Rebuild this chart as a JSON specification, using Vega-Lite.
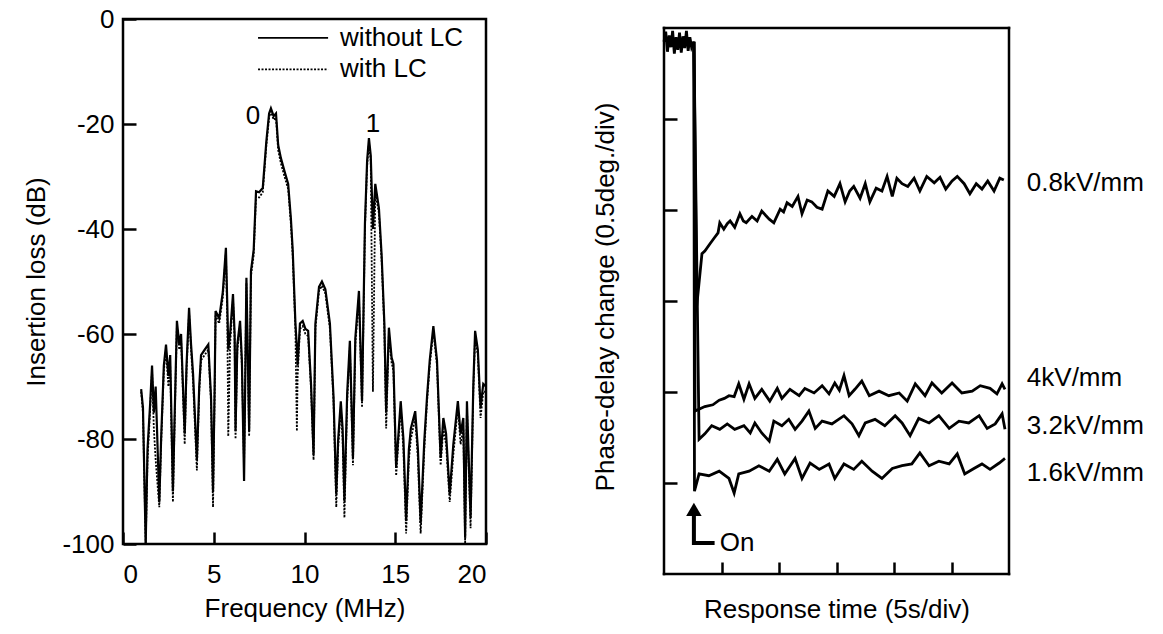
{
  "$schema": "https://vega.github.io/schema/vega-lite/v6.json",
  "padding": {"left": 22, "top": 4, "right": 5, "bottom": 5},
  "spacing": 100,
  "config": {
    "font": "Liberation Sans",
    "view": {"stroke": null},
    "axis": {"grid": false, "domain": false, "tickColor": "black", "tickWidth": 2.5, "labelColor": "black", "titleColor": "black", "labelFont": "Liberation Sans", "titleFont": "Liberation Sans", "labelFontSize": 26, "titleFontSize": 26, "titleFontWeight": "normal"},
    "text": {"font": "Liberation Sans", "fontSize": 26, "color": "black"}
  },
  "datasets": {
    "without": [
      {"f":1.0,"loss":-70.5},{"f":1.1,"loss":-74},{"f":1.25,"loss":-100},{"f":1.35,"loss":-82},{"f":1.5,"loss":-73},{"f":1.6,"loss":-66},{"f":1.7,"loss":-75},{"f":1.8,"loss":-70},{"f":2.0,"loss":-92},{"f":2.1,"loss":-80},{"f":2.25,"loss":-66},{"f":2.37,"loss":-62},{"f":2.5,"loss":-68},{"f":2.6,"loss":-64},{"f":2.75,"loss":-90},{"f":2.85,"loss":-75},{"f":2.97,"loss":-57.5},{"f":3.1,"loss":-62},{"f":3.2,"loss":-60},{"f":3.4,"loss":-79},{"f":3.5,"loss":-66},{"f":3.64,"loss":-55},{"f":3.75,"loss":-62},{"f":3.86,"loss":-67.6},{"f":4.07,"loss":-84},{"f":4.2,"loss":-70},{"f":4.3,"loss":-64},{"f":4.5,"loss":-63},{"f":4.7,"loss":-62},{"f":4.85,"loss":-72},{"f":4.96,"loss":-90},{"f":5.05,"loss":-70},{"f":5.1,"loss":-55.6},{"f":5.3,"loss":-57},{"f":5.5,"loss":-52},{"f":5.67,"loss":-43.6},{"f":5.75,"loss":-55},{"f":5.8,"loss":-63},{"f":5.9,"loss":-60},{"f":6.06,"loss":-52.4},{"f":6.15,"loss":-60},{"f":6.2,"loss":-78.5},{"f":6.3,"loss":-62},{"f":6.45,"loss":-57.5},{"f":6.55,"loss":-65},{"f":6.67,"loss":-88},{"f":6.8,"loss":-49.3},{"f":6.95,"loss":-78.5},{"f":7.05,"loss":-48},{"f":7.2,"loss":-44},{"f":7.33,"loss":-32.8},{"f":7.5,"loss":-33},{"f":7.7,"loss":-32.2},{"f":7.9,"loss":-23.2},{"f":8.05,"loss":-18},{"f":8.15,"loss":-17},{"f":8.3,"loss":-18.5},{"f":8.43,"loss":-18},{"f":8.55,"loss":-24},{"f":8.7,"loss":-26.5},{"f":8.9,"loss":-29},{"f":9.1,"loss":-31.4},{"f":9.25,"loss":-38},{"f":9.35,"loss":-44},{"f":9.5,"loss":-58},{"f":9.58,"loss":-62.6},{"f":9.62,"loss":-66},{"f":9.75,"loss":-58},{"f":9.9,"loss":-57.5},{"f":10.05,"loss":-59},{"f":10.2,"loss":-59.4},{"f":10.36,"loss":-69.5},{"f":10.5,"loss":-83},{"f":10.6,"loss":-58},{"f":10.8,"loss":-51},{"f":10.96,"loss":-50},{"f":11.15,"loss":-51.5},{"f":11.4,"loss":-58},{"f":11.6,"loss":-72},{"f":11.75,"loss":-90.5},{"f":11.85,"loss":-80.4},{"f":12.0,"loss":-72.8},{"f":12.1,"loss":-78},{"f":12.2,"loss":-91.8},{"f":12.35,"loss":-71.4},{"f":12.5,"loss":-61.3},{"f":12.67,"loss":-83.6},{"f":12.8,"loss":-60.8},{"f":13.0,"loss":-51.8},{"f":13.17,"loss":-72.8},{"f":13.33,"loss":-39},{"f":13.45,"loss":-27},{"f":13.55,"loss":-22.7},{"f":13.65,"loss":-26},{"f":13.77,"loss":-40},{"f":13.9,"loss":-31.4},{"f":14.1,"loss":-36},{"f":14.25,"loss":-45},{"f":14.4,"loss":-58},{"f":14.5,"loss":-75},{"f":14.65,"loss":-58.8},{"f":14.8,"loss":-64.5},{"f":14.9,"loss":-65.7},{"f":15.05,"loss":-85.5},{"f":15.3,"loss":-72.8},{"f":15.45,"loss":-80},{"f":15.6,"loss":-95.6},{"f":15.75,"loss":-82},{"f":15.86,"loss":-78},{"f":16.1,"loss":-74.7},{"f":16.25,"loss":-82},{"f":16.4,"loss":-96},{"f":16.6,"loss":-80.4},{"f":16.75,"loss":-72},{"f":16.9,"loss":-65},{"f":17.1,"loss":-58.5},{"f":17.3,"loss":-65},{"f":17.5,"loss":-83.6},{"f":17.65,"loss":-76},{"f":17.8,"loss":-79},{"f":18.0,"loss":-90.5},{"f":18.2,"loss":-81},{"f":18.45,"loss":-72.8},{"f":18.6,"loss":-79},{"f":18.75,"loss":-76},{"f":18.85,"loss":-98.8},{"f":18.95,"loss":-72.8},{"f":19.15,"loss":-95},{"f":19.3,"loss":-70},{"f":19.4,"loss":-59.4},{"f":19.55,"loss":-63},{"f":19.7,"loss":-74},{"f":19.85,"loss":-69.5},{"f":20.0,"loss":-70}
    ],
    "with": [
      {"f":1.0,"loss":-71},{"f":1.1,"loss":-75},{"f":1.25,"loss":-100},{"f":1.35,"loss":-84},{"f":1.5,"loss":-74},{"f":1.6,"loss":-67},{"f":1.7,"loss":-78},{"f":1.8,"loss":-84},{"f":2.0,"loss":-93},{"f":2.1,"loss":-81},{"f":2.25,"loss":-67},{"f":2.37,"loss":-63},{"f":2.5,"loss":-70},{"f":2.6,"loss":-66},{"f":2.75,"loss":-92},{"f":2.85,"loss":-76},{"f":2.97,"loss":-58.5},{"f":3.1,"loss":-63},{"f":3.2,"loss":-61},{"f":3.4,"loss":-81},{"f":3.5,"loss":-67},{"f":3.64,"loss":-56},{"f":3.75,"loss":-63},{"f":3.86,"loss":-69},{"f":4.07,"loss":-86},{"f":4.2,"loss":-71},{"f":4.3,"loss":-65},{"f":4.5,"loss":-64},{"f":4.7,"loss":-63},{"f":4.85,"loss":-73},{"f":4.96,"loss":-93},{"f":5.05,"loss":-71},{"f":5.1,"loss":-56.5},{"f":5.3,"loss":-58},{"f":5.5,"loss":-53},{"f":5.67,"loss":-44.5},{"f":5.75,"loss":-58},{"f":5.8,"loss":-79.5},{"f":5.9,"loss":-62},{"f":6.06,"loss":-53.4},{"f":6.15,"loss":-61},{"f":6.2,"loss":-80},{"f":6.3,"loss":-63},{"f":6.45,"loss":-58.5},{"f":6.55,"loss":-66},{"f":6.67,"loss":-85},{"f":6.8,"loss":-50.3},{"f":6.95,"loss":-79.5},{"f":7.05,"loss":-49},{"f":7.2,"loss":-45},{"f":7.33,"loss":-33.8},{"f":7.5,"loss":-34},{"f":7.7,"loss":-33},{"f":7.9,"loss":-24},{"f":8.05,"loss":-18.8},{"f":8.15,"loss":-17.6},{"f":8.3,"loss":-19.2},{"f":8.43,"loss":-18.8},{"f":8.55,"loss":-25},{"f":8.7,"loss":-27.5},{"f":8.9,"loss":-30},{"f":9.1,"loss":-32.4},{"f":9.25,"loss":-39},{"f":9.35,"loss":-45},{"f":9.5,"loss":-59},{"f":9.58,"loss":-78.5},{"f":9.62,"loss":-68},{"f":9.75,"loss":-59},{"f":9.9,"loss":-58.5},{"f":10.05,"loss":-60},{"f":10.2,"loss":-60.4},{"f":10.36,"loss":-70.5},{"f":10.5,"loss":-84},{"f":10.6,"loss":-59},{"f":10.8,"loss":-51.8},{"f":10.96,"loss":-50.8},{"f":11.15,"loss":-52.3},{"f":11.4,"loss":-59},{"f":11.6,"loss":-73},{"f":11.75,"loss":-93},{"f":11.85,"loss":-82},{"f":12.0,"loss":-74},{"f":12.1,"loss":-80},{"f":12.2,"loss":-95},{"f":12.35,"loss":-73},{"f":12.5,"loss":-62.5},{"f":12.67,"loss":-85},{"f":12.8,"loss":-62},{"f":13.0,"loss":-53},{"f":13.17,"loss":-74},{"f":13.33,"loss":-40},{"f":13.45,"loss":-28},{"f":13.55,"loss":-23.6},{"f":13.65,"loss":-27},{"f":13.77,"loss":-71},{"f":13.9,"loss":-33},{"f":14.1,"loss":-37},{"f":14.25,"loss":-46},{"f":14.4,"loss":-59},{"f":14.5,"loss":-78},{"f":14.65,"loss":-60},{"f":14.8,"loss":-65.5},{"f":14.9,"loss":-67},{"f":15.05,"loss":-87},{"f":15.3,"loss":-74},{"f":15.45,"loss":-82},{"f":15.6,"loss":-98},{"f":15.75,"loss":-84},{"f":15.86,"loss":-80},{"f":16.1,"loss":-76},{"f":16.25,"loss":-84},{"f":16.4,"loss":-98},{"f":16.6,"loss":-82},{"f":16.75,"loss":-73},{"f":16.9,"loss":-66},{"f":17.1,"loss":-59.5},{"f":17.3,"loss":-66},{"f":17.5,"loss":-85},{"f":17.65,"loss":-78},{"f":17.8,"loss":-81},{"f":18.0,"loss":-92},{"f":18.2,"loss":-83},{"f":18.45,"loss":-74},{"f":18.6,"loss":-81},{"f":18.75,"loss":-78},{"f":18.85,"loss":-100},{"f":18.95,"loss":-74},{"f":19.15,"loss":-97},{"f":19.3,"loss":-71},{"f":19.4,"loss":-60.5},{"f":19.55,"loss":-64},{"f":19.7,"loss":-76},{"f":19.85,"loss":-71},{"f":20.0,"loss":-71}
    ],
    "legendLines": [
      {"f":7.44,"loss":-3.6,"s":"without LC"},{"f":11.3,"loss":-3.6,"s":"without LC"},
      {"f":7.44,"loss":-9.6,"s":"with LC"},{"f":11.3,"loss":-9.6,"s":"with LC"}
    ],
    "leftText": [
      {"f":11.96,"loss":-3.6,"label":"without LC"},
      {"f":11.96,"loss":-9.6,"label":"with LC"}
    ],
    "peaks": [
      {"f":7.16,"loss":-18.5,"label":"0"},
      {"f":13.77,"loss":-20,"label":"1"}
    ],
    "resp": [
      {"t":0.0,"phase":5.85,"field":"pre"},{"t":0.03,"phase":5.96,"field":"pre"},{"t":0.06,"phase":5.74,"field":"pre"},{"t":0.09,"phase":5.92,"field":"pre"},{"t":0.12,"phase":5.79,"field":"pre"},{"t":0.15,"phase":5.97,"field":"pre"},{"t":0.18,"phase":5.72,"field":"pre"},{"t":0.21,"phase":5.9,"field":"pre"},{"t":0.24,"phase":5.76,"field":"pre"},{"t":0.27,"phase":5.95,"field":"pre"},{"t":0.3,"phase":5.73,"field":"pre"},{"t":0.33,"phase":5.91,"field":"pre"},{"t":0.36,"phase":5.78,"field":"pre"},{"t":0.39,"phase":5.97,"field":"pre"},{"t":0.42,"phase":5.75,"field":"pre"},{"t":0.45,"phase":5.9,"field":"pre"},{"t":0.48,"phase":5.79,"field":"pre"},{"t":0.52,"phase":5.85,"field":"pre"},

      {"t":0.52,"phase":5.85,"field":"0.8"},{"t":0.57,"phase":2.95,"field":"0.8"},{"t":0.66,"phase":3.52,"field":"0.8"},{"t":0.71,"phase":3.55,"field":"0.8"},{"t":0.8,"phase":3.63,"field":"0.8"},{"t":0.87,"phase":3.69,"field":"0.8"},{"t":0.94,"phase":3.75,"field":"0.8"},{"t":0.97,"phase":3.86,"field":"0.8"},{"t":1.04,"phase":3.79,"field":"0.8"},{"t":1.1,"phase":3.85,"field":"0.8"},{"t":1.15,"phase":3.88,"field":"0.8"},{"t":1.23,"phase":3.81,"field":"0.8"},{"t":1.32,"phase":3.96,"field":"0.8"},{"t":1.38,"phase":3.88,"field":"0.8"},{"t":1.43,"phase":3.86,"field":"0.8"},{"t":1.53,"phase":3.93,"field":"0.8"},{"t":1.62,"phase":3.88,"field":"0.8"},{"t":1.7,"phase":3.99,"field":"0.8"},{"t":1.77,"phase":3.94,"field":"0.8"},{"t":1.83,"phase":3.9,"field":"0.8"},{"t":1.91,"phase":3.86,"field":"0.8"},{"t":2.02,"phase":4.01,"field":"0.8"},{"t":2.08,"phase":3.98,"field":"0.8"},{"t":2.14,"phase":4.08,"field":"0.8"},{"t":2.23,"phase":4.04,"field":"0.8"},{"t":2.33,"phase":4.15,"field":"0.8"},{"t":2.4,"phase":3.96,"field":"0.8"},{"t":2.49,"phase":4.11,"field":"0.8"},{"t":2.57,"phase":4.09,"field":"0.8"},{"t":2.66,"phase":4.03,"field":"0.8"},{"t":2.75,"phase":4.01,"field":"0.8"},{"t":2.85,"phase":4.21,"field":"0.8"},{"t":2.96,"phase":4.15,"field":"0.8"},{"t":3.06,"phase":4.29,"field":"0.8"},{"t":3.15,"phase":4.09,"field":"0.8"},{"t":3.23,"phase":4.21,"field":"0.8"},{"t":3.3,"phase":4.26,"field":"0.8"},{"t":3.41,"phase":4.13,"field":"0.8"},{"t":3.5,"phase":4.29,"field":"0.8"},{"t":3.58,"phase":4.09,"field":"0.8"},{"t":3.69,"phase":4.24,"field":"0.8"},{"t":3.79,"phase":4.21,"field":"0.8"},{"t":3.88,"phase":4.37,"field":"0.8"},{"t":3.97,"phase":4.15,"field":"0.8"},{"t":4.05,"phase":4.35,"field":"0.8"},{"t":4.14,"phase":4.29,"field":"0.8"},{"t":4.24,"phase":4.26,"field":"0.8"},{"t":4.35,"phase":4.35,"field":"0.8"},{"t":4.45,"phase":4.21,"field":"0.8"},{"t":4.57,"phase":4.37,"field":"0.8"},{"t":4.7,"phase":4.3,"field":"0.8"},{"t":4.8,"phase":4.36,"field":"0.8"},{"t":4.9,"phase":4.23,"field":"0.8"},{"t":5.01,"phase":4.32,"field":"0.8"},{"t":5.1,"phase":4.37,"field":"0.8"},{"t":5.22,"phase":4.29,"field":"0.8"},{"t":5.32,"phase":4.18,"field":"0.8"},{"t":5.43,"phase":4.29,"field":"0.8"},{"t":5.53,"phase":4.23,"field":"0.8"},{"t":5.63,"phase":4.32,"field":"0.8"},{"t":5.74,"phase":4.21,"field":"0.8"},{"t":5.84,"phase":4.35,"field":"0.8"},{"t":5.91,"phase":4.33,"field":"0.8"},

      {"t":0.52,"phase":5.85,"field":"4"},{"t":0.54,"phase":1.79,"field":"4"},{"t":0.71,"phase":1.84,"field":"4"},{"t":0.85,"phase":1.86,"field":"4"},{"t":0.96,"phase":1.91,"field":"4"},{"t":1.05,"phase":1.93,"field":"4"},{"t":1.13,"phase":1.96,"field":"4"},{"t":1.22,"phase":1.95,"field":"4"},{"t":1.3,"phase":2.09,"field":"4"},{"t":1.39,"phase":1.92,"field":"4"},{"t":1.48,"phase":2.09,"field":"4"},{"t":1.58,"phase":1.93,"field":"4"},{"t":1.7,"phase":2.03,"field":"4"},{"t":1.84,"phase":1.9,"field":"4"},{"t":1.97,"phase":2.04,"field":"4"},{"t":2.05,"phase":1.93,"field":"4"},{"t":2.19,"phase":2.03,"field":"4"},{"t":2.35,"phase":1.96,"field":"4"},{"t":2.45,"phase":2.04,"field":"4"},{"t":2.61,"phase":1.99,"field":"4"},{"t":2.75,"phase":2.07,"field":"4"},{"t":2.87,"phase":1.98,"field":"4"},{"t":2.97,"phase":2.1,"field":"4"},{"t":3.05,"phase":2.02,"field":"4"},{"t":3.13,"phase":2.18,"field":"4"},{"t":3.22,"phase":1.96,"field":"4"},{"t":3.32,"phase":2.03,"field":"4"},{"t":3.44,"phase":2.12,"field":"4"},{"t":3.57,"phase":1.96,"field":"4"},{"t":3.74,"phase":2.01,"field":"4"},{"t":3.91,"phase":1.96,"field":"4"},{"t":4.09,"phase":1.99,"field":"4"},{"t":4.23,"phase":1.9,"field":"4"},{"t":4.37,"phase":2.09,"field":"4"},{"t":4.54,"phase":1.96,"field":"4"},{"t":4.66,"phase":2.1,"field":"4"},{"t":4.83,"phase":1.99,"field":"4"},{"t":5.01,"phase":2.1,"field":"4"},{"t":5.18,"phase":1.99,"field":"4"},{"t":5.36,"phase":2.01,"field":"4"},{"t":5.5,"phase":2.07,"field":"4"},{"t":5.67,"phase":2.04,"field":"4"},{"t":5.79,"phase":1.98,"field":"4"},{"t":5.88,"phase":2.09,"field":"4"},{"t":5.93,"phase":2.03,"field":"4"},

      {"t":0.52,"phase":5.85,"field":"3.2"},{"t":0.61,"phase":1.48,"field":"3.2"},{"t":0.71,"phase":1.54,"field":"3.2"},{"t":0.83,"phase":1.63,"field":"3.2"},{"t":0.97,"phase":1.59,"field":"3.2"},{"t":1.1,"phase":1.65,"field":"3.2"},{"t":1.23,"phase":1.59,"field":"3.2"},{"t":1.39,"phase":1.63,"field":"3.2"},{"t":1.5,"phase":1.55,"field":"3.2"},{"t":1.58,"phase":1.66,"field":"3.2"},{"t":1.7,"phase":1.55,"field":"3.2"},{"t":1.83,"phase":1.46,"field":"3.2"},{"t":1.91,"phase":1.68,"field":"3.2"},{"t":2.05,"phase":1.63,"field":"3.2"},{"t":2.17,"phase":1.7,"field":"3.2"},{"t":2.28,"phase":1.59,"field":"3.2"},{"t":2.4,"phase":1.68,"field":"3.2"},{"t":2.52,"phase":1.79,"field":"3.2"},{"t":2.63,"phase":1.6,"field":"3.2"},{"t":2.75,"phase":1.68,"field":"3.2"},{"t":2.92,"phase":1.65,"field":"3.2"},{"t":3.13,"phase":1.74,"field":"3.2"},{"t":3.27,"phase":1.65,"field":"3.2"},{"t":3.39,"phase":1.52,"field":"3.2"},{"t":3.5,"phase":1.66,"field":"3.2"},{"t":3.67,"phase":1.7,"field":"3.2"},{"t":3.84,"phase":1.63,"field":"3.2"},{"t":4.02,"phase":1.74,"field":"3.2"},{"t":4.14,"phase":1.66,"field":"3.2"},{"t":4.28,"phase":1.52,"field":"3.2"},{"t":4.43,"phase":1.71,"field":"3.2"},{"t":4.61,"phase":1.66,"field":"3.2"},{"t":4.78,"phase":1.74,"field":"3.2"},{"t":4.96,"phase":1.6,"field":"3.2"},{"t":5.13,"phase":1.68,"field":"3.2"},{"t":5.3,"phase":1.66,"field":"3.2"},{"t":5.48,"phase":1.74,"field":"3.2"},{"t":5.62,"phase":1.6,"field":"3.2"},{"t":5.76,"phase":1.65,"field":"3.2"},{"t":5.88,"phase":1.76,"field":"3.2"},{"t":5.93,"phase":1.59,"field":"3.2"},

      {"t":0.52,"phase":5.85,"field":"1.6"},{"t":0.53,"phase":0.91,"field":"1.6"},{"t":0.61,"phase":1.1,"field":"1.6"},{"t":0.78,"phase":1.08,"field":"1.6"},{"t":0.96,"phase":1.13,"field":"1.6"},{"t":1.13,"phase":1.05,"field":"1.6"},{"t":1.22,"phase":0.89,"field":"1.6"},{"t":1.3,"phase":1.1,"field":"1.6"},{"t":1.48,"phase":1.13,"field":"1.6"},{"t":1.65,"phase":1.19,"field":"1.6"},{"t":1.83,"phase":1.13,"field":"1.6"},{"t":1.97,"phase":1.26,"field":"1.6"},{"t":2.1,"phase":1.1,"field":"1.6"},{"t":2.28,"phase":1.27,"field":"1.6"},{"t":2.4,"phase":1.05,"field":"1.6"},{"t":2.54,"phase":1.22,"field":"1.6"},{"t":2.7,"phase":1.15,"field":"1.6"},{"t":2.87,"phase":1.21,"field":"1.6"},{"t":2.97,"phase":1.05,"field":"1.6"},{"t":3.13,"phase":1.21,"field":"1.6"},{"t":3.3,"phase":1.15,"field":"1.6"},{"t":3.44,"phase":1.24,"field":"1.6"},{"t":3.62,"phase":1.13,"field":"1.6"},{"t":3.79,"phase":1.05,"field":"1.6"},{"t":3.97,"phase":1.16,"field":"1.6"},{"t":4.14,"phase":1.19,"field":"1.6"},{"t":4.31,"phase":1.21,"field":"1.6"},{"t":4.45,"phase":1.33,"field":"1.6"},{"t":4.61,"phase":1.19,"field":"1.6"},{"t":4.78,"phase":1.24,"field":"1.6"},{"t":4.96,"phase":1.21,"field":"1.6"},{"t":5.1,"phase":1.32,"field":"1.6"},{"t":5.23,"phase":1.1,"field":"1.6"},{"t":5.39,"phase":1.16,"field":"1.6"},{"t":5.53,"phase":1.21,"field":"1.6"},{"t":5.67,"phase":1.15,"field":"1.6"},{"t":5.83,"phase":1.22,"field":"1.6"},{"t":5.93,"phase":1.27,"field":"1.6"}
    ],
    "frame": [
      {"t":0,"phase":0,"t2":0,"phase2":6},
      {"t":0,"phase":6,"t2":6,"phase2":6},
      {"t":6,"phase":0,"t2":6,"phase2":6},
      {"t":0,"phase":0,"t2":6,"phase2":0}
    ],
    "fieldLabels": [
      {"t":6.31,"phase":4.3,"label":"0.8kV/mm"},
      {"t":6.31,"phase":2.15,"label":"4kV/mm"},
      {"t":6.31,"phase":1.63,"label":"3.2kV/mm"},
      {"t":6.31,"phase":1.11,"label":"1.6kV/mm"}
    ],
    "arrow": [
      {"t":0.52,"phase":0.64,"k":0},{"t":0.52,"phase":0.34,"k":1},{"t":0.88,"phase":0.34,"k":2}
    ],
    "arrowHead": [{"t":0.52,"phase":0.71}],
    "onText": [{"t":0.97,"phase":0.34,"label":"On"}]
  },
  "hconcat": [
    {
      "width": 363,
      "height": 525,
      "view": {"stroke": "black", "strokeWidth": 2.5},
      "layer": [
        {
          "data": {"name": "with"},
          "mark": {"type": "line", "color": "black", "strokeWidth": 1.8, "strokeDash": [2, 1.5]},
          "encoding": {
            "x": {"field": "f", "type": "quantitative", "scale": {"domain": [0, 20], "nice": false}, "axis": {"values": [0, 5, 10, 15, 20], "tickSize": -12, "labelPadding": 29, "title": "Frequency (MHz)", "titlePadding": 8}},
            "y": {"field": "loss", "type": "quantitative", "scale": {"domain": [-100, 0], "nice": false}, "axis": {"values": [-100, -80, -60, -40, -20, 0], "tickSize": -13, "labelPadding": 22, "labelExpr": "datum.value < 0 ? '-' + (-datum.value) : '' + datum.value", "title": "Insertion loss (dB)", "titlePadding": 12}}
          }
        },
        {
          "data": {"name": "without"},
          "mark": {"type": "line", "color": "black", "strokeWidth": 2.2},
          "encoding": {
            "x": {"field": "f", "type": "quantitative"},
            "y": {"field": "loss", "type": "quantitative"}
          }
        },
        {
          "data": {"name": "legendLines"},
          "mark": {"type": "line", "color": "black", "strokeWidth": 1.8},
          "encoding": {
            "x": {"field": "f", "type": "quantitative"},
            "y": {"field": "loss", "type": "quantitative"},
            "detail": {"field": "s"},
            "strokeDash": {"field": "s", "type": "nominal", "scale": {"domain": ["without LC", "with LC"], "range": [[1, 0], [2, 1.5]]}, "legend": null}
          }
        },
        {
          "data": {"name": "leftText"},
          "mark": {"type": "text", "align": "left", "baseline": "middle"},
          "encoding": {
            "x": {"field": "f", "type": "quantitative"},
            "y": {"field": "loss", "type": "quantitative"},
            "text": {"field": "label"}
          }
        },
        {
          "data": {"name": "peaks"},
          "mark": {"type": "text", "align": "center", "baseline": "middle"},
          "encoding": {
            "x": {"field": "f", "type": "quantitative"},
            "y": {"field": "loss", "type": "quantitative"},
            "text": {"field": "label"}
          }
        }
      ]
    },
    {
      "width": 345,
      "height": 555,
      "layer": [
        {
          "data": {"name": "frame"},
          "mark": {"type": "rule", "color": "black", "strokeWidth": 2.5, "strokeCap": "square"},
          "encoding": {
            "x": {"field": "t", "type": "quantitative", "scale": {"domain": [0, 6], "nice": false}, "axis": {"values": [1, 2, 3, 4, 5], "labels": false, "tickSize": -12, "title": "Response time (5s/div)", "titlePadding": 21}},
            "y": {"field": "phase", "type": "quantitative", "scale": {"domain": [0, 6.1], "nice": false}, "axis": {"values": [1, 2, 3, 4, 5], "labels": false, "tickSize": -13, "title": "Phase-delay change (0.5deg./div)", "titlePadding": 44}},
            "x2": {"field": "t2"},
            "y2": {"field": "phase2"}
          }
        },
        {
          "data": {"name": "resp"},
          "mark": {"type": "line", "color": "black", "strokeWidth": 2.8},
          "encoding": {
            "x": {"field": "t", "type": "quantitative"},
            "y": {"field": "phase", "type": "quantitative"},
            "detail": {"field": "field"}
          }
        },
        {
          "data": {"name": "arrow"},
          "mark": {"type": "line", "color": "black", "strokeWidth": 4},
          "encoding": {
            "x": {"field": "t", "type": "quantitative"},
            "y": {"field": "phase", "type": "quantitative"},
            "order": {"field": "k"}
          }
        },
        {
          "data": {"name": "arrowHead"},
          "mark": {"type": "point", "shape": "triangle-up", "filled": true, "color": "black", "size": 240, "opacity": 1},
          "encoding": {
            "x": {"field": "t", "type": "quantitative"},
            "y": {"field": "phase", "type": "quantitative"}
          }
        },
        {
          "data": {"name": "onText"},
          "mark": {"type": "text", "align": "left", "baseline": "middle"},
          "encoding": {
            "x": {"field": "t", "type": "quantitative"},
            "y": {"field": "phase", "type": "quantitative"},
            "text": {"field": "label"}
          }
        },
        {
          "data": {"name": "fieldLabels"},
          "mark": {"type": "text", "align": "left", "baseline": "middle"},
          "encoding": {
            "x": {"field": "t", "type": "quantitative"},
            "y": {"field": "phase", "type": "quantitative"},
            "text": {"field": "label"}
          }
        }
      ]
    }
  ]
}
